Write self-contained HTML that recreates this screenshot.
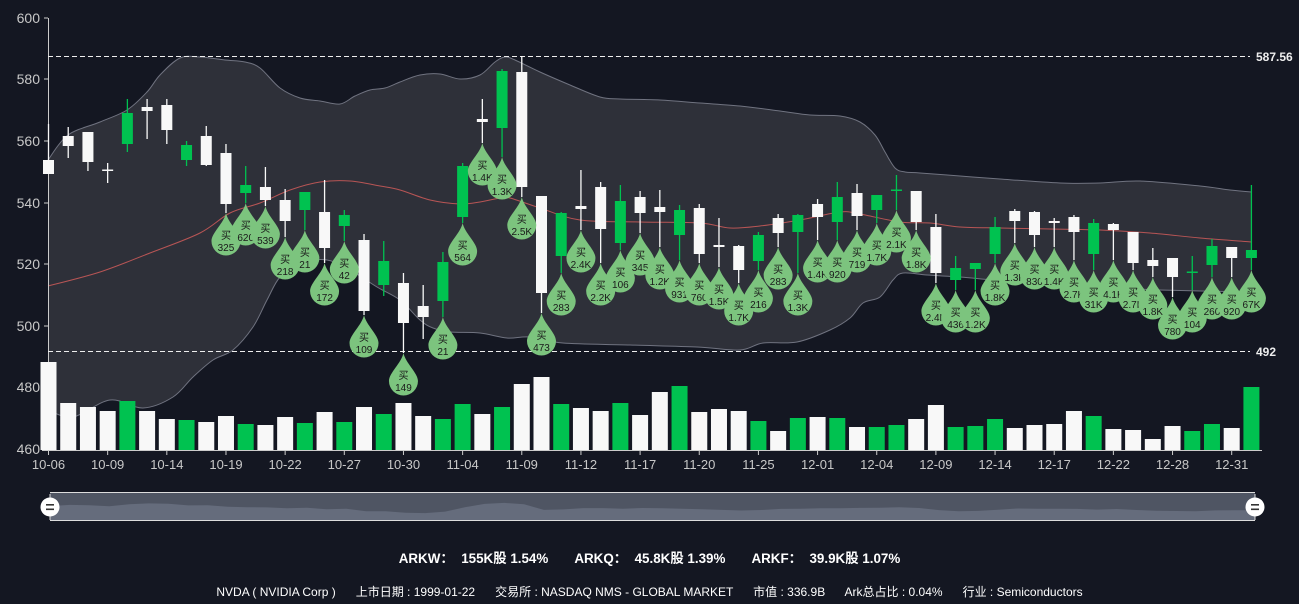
<!DOCTYPE html>
<html><head><meta charset="utf-8">
<style>
html,body{margin:0;padding:0;background:#141722;}
body{width:1299px;height:604px;overflow:hidden;position:relative;font-family:"Liberation Sans","Noto Sans CJK SC",sans-serif;}
.t1{position:absolute;top:547px;left:0;width:1299px;text-align:center;color:#fff;font-weight:bold;font-size:13.4px;white-space:pre;}
.t2{position:absolute;top:583px;left:0;width:1299px;text-align:center;color:#fff;font-size:12px;white-space:pre;}
</style></head><body>
<svg id="s" width="1299" height="604" xmlns="http://www.w3.org/2000/svg" style="position:absolute;left:0;top:0"></svg>
<div class="t1">ARKW：  155K股 1.54%       ARKQ：  45.8K股 1.39%       ARKF：  39.9K股 1.07%</div>
<div class="t2">NVDA ( NVIDIA Corp )      上市日期 : 1999-01-22      交易所 : NASDAQ NMS - GLOBAL MARKET      市值 : 336.9B      Ark总占比 : 0.04%      行业 : Semiconductors</div>
<script>
var D=[
[160,174,124,174,'w',362,''],[136,146,127,158,'w',403,''],[132,162,132,171,'w',407,''],[169.5,170.5,163,183,'w',411,''],
[113,144,99,152,'g',401,''],[107,111,99,139,'w',411,''],[105,130,99,144,'w',419,''],[145,160,141,166,'g',420,''],
[136,165,126,166,'w',422,''],[153,204,144,213,'w',416,'325'],[185,193,166,203,'g',424,'620'],[187,200,167,206,'w',425,'539'],
[200,221,189,237,'w',417,'218'],[192,210,192,230,'g',423,'21'],[212,248,180,263,'w',412,'172'],[215,226,210,241,'g',422,'42'],
[240,311,234,315,'w',407,'109'],[261,285,241,296,'g',414,''],[283,323,273,353,'w',403,'149'],[306,317,285,339,'w',416,''],
[262,301,252,317,'g',419,'21'],[166,217,163,223,'g',404,'564'],[119,122,99,143,'w',414,'1.4K'],[71,128,69,157,'g',407,'1.3K'],
[72,187,56,197,'w',384,'2.5K'],[196,293,196,313,'w',377,'473'],[213,256,212,273,'g',404,'283'],[206,209,170,230,'w',408,'2.4K'],
[187,229,182,263,'w',411,'2.2K'],[201,243,185,250,'g',403,'106'],[197,213,191,233,'w',415,'345'],[207,212,190,247,'w',392,'1.2K'],
[210,235,205,260,'g',386,'931'],[208,254,204,263,'w',412,'760'],[245,247,218,267,'w',409,'1.5K'],[246,270,245,283,'w',411,'1.7K'],
[235,261,232,270,'g',421,'216'],[218,233,214,247,'w',431,'283'],[215,232,214,273,'g',418,'1.3K'],[204,217,199,240,'w',417,'1.4K'],
[197,222,182,240,'g',418,'920'],[193,216,184,230,'w',427,'719'],[195,210,195,223,'g',427,'1.7K'],[189.5,190.5,175,210,'g',425,'2.1K'],
[191,222,191,230,'w',419,'1.8K'],[227,273,214,283,'w',405,'2.4K'],[268,280,256,290,'g',427,'436'],[263,269,263,290,'g',426,'1.2K'],
[227,254,217,263,'g',419,'1.8K'],[211,221,209,243,'w',428,'1.3K'],[212,235,211,247,'w',425,'830'],[221,223,218,247,'w',424,'1.4K'],
[217,232,215,260,'w',411,'2.7K'],[223,254,219,270,'g',416,'31K'],[224,230,223,260,'w',429,'4.1K'],[232,263,232,270,'w',430,'2.7K'],
[260,266,248,277,'w',439,'1.8K'],[258,277,258,297,'w',426,'780'],[271.5,272.5,256,290,'g',431,'104'],[246,265,239,277,'g',424,'260'],
[247,258,247,277,'w',428,'920'],[250,258,185,270,'g',387,'67K']];
var X=i=>48.5+19.72*i, G='#00c250', W='#f8f8f8';
var up=[[48,160],[68,135],[100,122],[127,110],[147,92],[160,75],[180,58],[200,57],[225,60],[245,62],[260,68],[280,88],[300,98],[320,101],[340,104],[355,96],[370,90],[385,88],[400,82],[420,75],[440,74],[460,79],[480,75],[495,62],[505,57],[515,60],[540,72],[570,85],[600,97],[620,99],[660,100],[700,103],[740,106],[780,111],[810,115],[840,116],[860,122],[875,135],[885,152],[895,168],[905,172],[920,173],[960,176],[1000,179],[1060,183],[1100,183],[1140,181],[1200,186],[1230,190],[1252,192]];
var lo=[[48,410],[73,417],[110,400],[143,408],[173,397],[193,377],[213,360],[233,350],[253,327],[267,300],[280,277],[300,263],[327,260],[350,270],[377,287],[400,300],[420,320],[433,328],[450,332],[480,333],[507,338],[530,337],[563,343],[630,345],[697,347],[740,350],[763,343],[797,342],[830,330],[850,318],[863,303],[880,297],[893,280],[903,273],[927,275],[960,277],[993,280],[1050,285],[1100,287],[1160,290],[1252,292]];
var md=[[48,286],[100,272],[150,253],[200,233],[230,213],[260,203],[290,190],[320,182],[350,181],[380,186],[400,190],[430,200],[460,204],[480,202],[500,198],[510,198],[540,208],[580,220],[640,222],[700,223],[730,228],[760,226],[800,220],[840,212],[860,214],[900,222],[930,223],[960,227],[1000,228],[1050,229],[1100,230],[1150,233],[1200,238],[1252,242]];
function sm(p,noM){var s=noM?'':'M'+p[0][0]+','+p[0][1];for(var i=0;i<p.length-1;i++){var p0=p[Math.max(i-1,0)],p1=p[i],p2=p[i+1],p3=p[Math.min(i+2,p.length-1)];
var c1x=p1[0]+(p2[0]-p0[0])/6,c1y=p1[1]+(p2[1]-p0[1])/6,c2x=p2[0]-(p3[0]-p1[0])/6,c2y=p2[1]-(p3[1]-p1[1])/6;
s+=' C'+c1x.toFixed(1)+','+c1y.toFixed(1)+' '+c2x.toFixed(1)+','+c2y.toFixed(1)+' '+p2[0]+','+p2[1];}return s;}
var h='';
var lr=lo.slice().reverse();
h+='<path d="'+sm(up)+' L'+lr[0][0]+','+lr[0][1]+sm(lr,true)+' Z" fill="#2e3039"/>';
h+='<path d="'+sm(up)+'" fill="none" stroke="#707380" stroke-width="1"/>';
h+='<path d="'+sm(lo)+'" fill="none" stroke="#707380" stroke-width="1"/>';
h+='<path d="'+sm(md)+'" fill="none" stroke="#b85555" stroke-width="1"/>';
h+='<line x1="48.5" y1="18" x2="48.5" y2="450" stroke="#ccc"/>';
h+='<line x1="42" y1="450.5" x2="1262" y2="450.5" stroke="#ccc"/>';
var yl=[[600,18],[580,79],[560,141],[540,203],[520,264],[500,326],[480,387],[460,449]];
yl.forEach(v=>{h+='<line x1="44" y1="'+v[1]+'" x2="48" y2="'+v[1]+'" stroke="#ccc"/><text x="40" y="'+(v[1]+5)+'" fill="#c8c8c8" font-size="14" text-anchor="end">'+v[0]+'</text>';});
var xl=['10-06','10-09','10-14','10-19','10-22','10-27','10-30','11-04','11-09','11-12','11-17','11-20','11-25','12-01','12-04','12-09','12-14','12-17','12-22','12-28','12-31'];
xl.forEach((t,k)=>{var x=X(k*3);h+='<line x1="'+x+'" y1="450" x2="'+x+'" y2="455" stroke="#ccc"/><text x="'+x+'" y="469" fill="#c8c8c8" font-size="13" text-anchor="middle">'+t+'</text>';});
h+='<line x1="48" y1="56.5" x2="1250" y2="56.5" stroke="#eee" stroke-dasharray="5,3"/><text x="1256" y="61" fill="#eee" font-size="12" font-weight="bold">587.56</text>';
h+='<line x1="48" y1="351.5" x2="1250" y2="351.5" stroke="#eee" stroke-dasharray="5,3"/><text x="1256" y="356" fill="#eee" font-size="12" font-weight="bold">492</text>';
D.forEach((d,i)=>{var x=X(i);h+='<rect x="'+(x-8)+'" y="'+d[5]+'" width="16" height="'+(450-d[5])+'" fill="'+(d[4]=='g'?G:W)+'"/>';});
D.forEach((d,i)=>{var x=X(i),c=d[4]=='g'?G:W;h+='<line x1="'+x+'" y1="'+d[2]+'" x2="'+x+'" y2="'+d[3]+'" stroke="'+c+'" stroke-width="1.3"/>';var hh=Math.max(d[1]-d[0],1.5);h+='<rect x="'+(x-5.5)+'" y="'+d[0]+'" width="11" height="'+hh+'" fill="'+c+'"/>';});
D.forEach((d,i)=>{if(!d[6])return;var x=X(i),t=d[3],cy=t+28,r=14.5;
h+='<path d="M'+x+','+t+' C'+(x+2)+','+(t+10)+' '+(x+r)+','+(cy-8)+' '+(x+r)+','+cy+' A'+r+','+r+' 0 1 1 '+(x-r)+','+cy+' C'+(x-r)+','+(cy-8)+' '+(x-2)+','+(t+10)+' '+x+','+t+' Z" fill="#7cc47e"/>';
h+='<text x="'+x+'" y="'+(cy-2)+'" font-size="10" fill="#1a1a1a" text-anchor="middle">买</text><text x="'+x+'" y="'+(cy+10)+'" font-size="10" fill="#1a1a1a" text-anchor="middle">'+d[6]+'</text>';});
h+='<rect x="50" y="492" width="1205" height="29" fill="#4f5563"/>';
var sp='M50,521 L50,510';for(var i=0;i<62;i++){var x=50+1205*i/61;var v=(D[i][0]+D[i][1])/2;sp+=' L'+x.toFixed(1)+','+(501+(v-60)/250*12).toFixed(1);}sp+=' L1255,521 Z';
h+='<path d="'+sp+'" fill="#656c7c"/>';
h+='<line x1="50" y1="492.5" x2="1255" y2="492.5" stroke="#ddd"/><line x1="50" y1="520.5" x2="1255" y2="520.5" stroke="#ddd"/>';
[50,1255].forEach(x=>{h+='<line x1="'+x+'" y1="494" x2="'+x+'" y2="520" stroke="#ddd"/><circle cx="'+x+'" cy="507" r="9.5" fill="#fff"/><rect x="'+(x-4)+'" y="504" width="8" height="1.6" fill="#333"/><rect x="'+(x-4)+'" y="508.5" width="8" height="1.6" fill="#333"/>';});
document.getElementById('s').innerHTML=h;
</script>
</body></html>
